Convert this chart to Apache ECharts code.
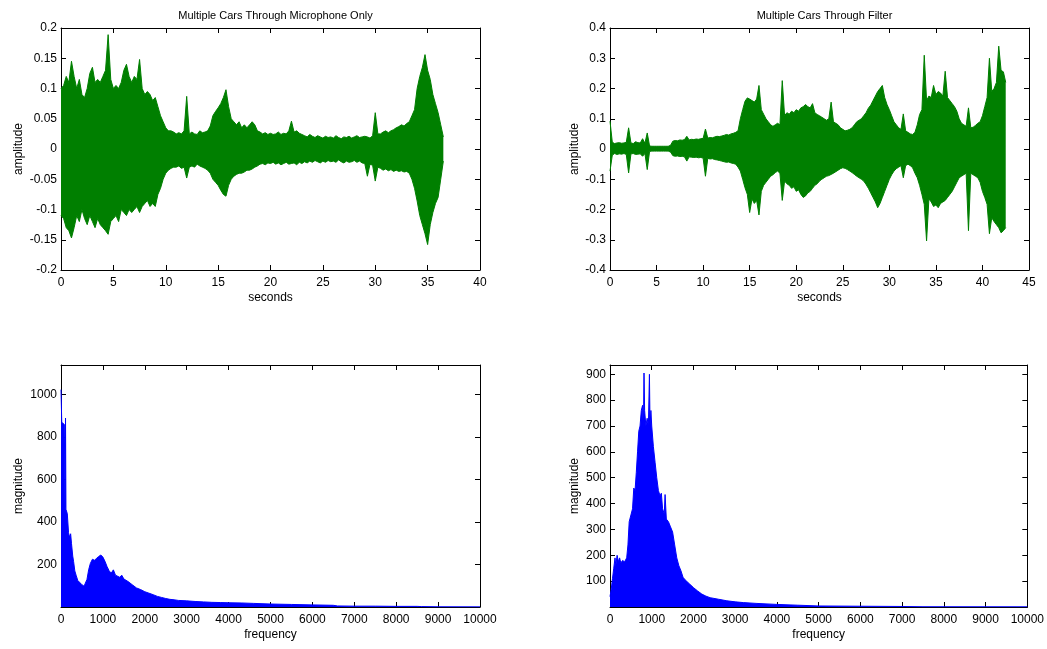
<!DOCTYPE html>
<html>
<head>
<meta charset="utf-8">
<script src="https://cdn.jsdelivr.net/npm/echarts@6/dist/echarts.min.js"></script>
<style>
html,body{margin:0;padding:0;background:#fff;}
#chart{width:1047px;height:649px;}
</style>
</head>
<body>
<div id="chart"></div>
<script>
// ---------- Data ----------
// Panel 1: microphone waveform envelope, sampled every 0.25 s from 0 s
const micStart = 0, micStep = 0.25;
const micUpper = [
  0.100,0.105,0.120,0.110,0.145,0.120,0.100,0.115,
  0.090,0.085,0.100,0.125,0.135,0.110,0.115,0.110,
  0.120,0.130,0.189,0.115,0.100,0.105,0.100,0.110,
  0.130,0.140,0.120,0.110,0.120,0.115,0.148,0.100,
  0.090,0.095,0.090,0.080,0.085,0.070,0.055,0.045,
  0.035,0.030,0.030,0.028,0.025,0.027,0.025,0.030,
  0.087,0.025,0.028,0.025,0.024,0.030,0.027,0.028,
  0.030,0.038,0.055,0.062,0.068,0.075,0.085,0.098,
  0.070,0.050,0.045,0.040,0.045,0.035,0.040,0.035,
  0.040,0.045,0.040,0.030,0.028,0.025,0.027,0.024,
  0.026,0.024,0.025,0.028,0.024,0.026,0.025,0.030,
  0.046,0.028,0.030,0.026,0.024,0.022,0.020,0.024,
  0.021,0.019,0.022,0.020,0.018,0.021,0.019,0.020,
  0.018,0.022,0.019,0.017,0.020,0.019,0.021,0.018,
  0.020,0.022,0.019,0.020,0.021,0.020,0.018,0.022,
  0.060,0.025,0.025,0.028,0.030,0.027,0.030,0.032,
  0.035,0.037,0.040,0.038,0.042,0.045,0.055,0.065,
  0.100,0.120,0.135,0.156,0.130,0.115,0.090,0.075,
  0.060,0.040,0.020
];
const micLower = [
  -0.110,-0.115,-0.130,-0.135,-0.147,-0.130,-0.110,-0.120,
  -0.100,-0.115,-0.125,-0.110,-0.120,-0.130,-0.115,-0.125,
  -0.130,-0.135,-0.141,-0.120,-0.115,-0.110,-0.120,-0.100,
  -0.105,-0.110,-0.100,-0.105,-0.100,-0.095,-0.105,-0.095,
  -0.090,-0.085,-0.095,-0.090,-0.095,-0.075,-0.065,-0.050,
  -0.040,-0.035,-0.032,-0.030,-0.030,-0.028,-0.032,-0.030,
  -0.048,-0.030,-0.028,-0.030,-0.025,-0.028,-0.030,-0.032,
  -0.035,-0.040,-0.050,-0.055,-0.060,-0.068,-0.075,-0.078,
  -0.060,-0.050,-0.045,-0.042,-0.040,-0.040,-0.038,-0.035,
  -0.035,-0.033,-0.030,-0.028,-0.025,-0.024,-0.026,-0.023,
  -0.024,-0.022,-0.025,-0.023,-0.026,-0.024,-0.022,-0.025,
  -0.024,-0.023,-0.026,-0.022,-0.024,-0.021,-0.023,-0.020,
  -0.022,-0.019,-0.021,-0.023,-0.020,-0.022,-0.019,-0.021,
  -0.020,-0.022,-0.018,-0.021,-0.023,-0.020,-0.022,-0.021,
  -0.019,-0.022,-0.020,-0.023,-0.024,-0.045,-0.025,-0.027,
  -0.053,-0.030,-0.032,-0.035,-0.033,-0.036,-0.034,-0.037,
  -0.035,-0.037,-0.036,-0.038,-0.037,-0.040,-0.050,-0.065,
  -0.086,-0.110,-0.125,-0.140,-0.158,-0.125,-0.105,-0.090,
  -0.080,-0.050,-0.020
];

// Panel 2: filtered waveform envelope, sampled every 0.25 s from 0 s
const filtStart = 0, filtStep = 0.25;
const filtUpper = [
  0.092,0.022,0.018,0.020,0.021,0.019,0.020,0.022,
  0.070,0.020,0.018,0.024,0.021,0.020,0.034,0.019,
  0.053,0.010,0.009,0.009,0.009,0.009,0.009,0.009,
  0.009,0.009,0.012,0.026,0.028,0.027,0.030,0.029,
  0.031,0.042,0.030,0.032,0.031,0.033,0.032,0.034,
  0.035,0.066,0.036,0.038,0.037,0.040,0.042,0.041,
  0.043,0.045,0.048,0.046,0.050,0.052,0.055,0.060,
  0.100,0.130,0.158,0.169,0.165,0.160,0.155,0.165,
  0.210,0.130,0.115,0.100,0.090,0.080,0.075,0.080,
  0.085,0.080,0.226,0.110,0.120,0.115,0.125,0.120,
  0.130,0.125,0.136,0.140,0.147,0.140,0.136,0.150,
  0.120,0.114,0.110,0.105,0.100,0.095,0.100,0.155,
  0.090,0.085,0.080,0.070,0.065,0.060,0.062,0.065,
  0.070,0.080,0.090,0.095,0.100,0.110,0.120,0.135,
  0.145,0.160,0.175,0.190,0.200,0.210,0.170,0.147,
  0.130,0.110,0.090,0.080,0.070,0.065,0.116,0.060,
  0.055,0.050,0.048,0.055,0.080,0.114,0.130,0.310,
  0.160,0.175,0.170,0.210,0.180,0.190,0.185,0.175,
  0.257,0.170,0.160,0.150,0.140,0.125,0.100,0.085,
  0.080,0.075,0.136,0.070,0.072,0.078,0.085,0.090,
  0.110,0.140,0.170,0.300,0.190,0.200,0.220,0.340,
  0.260,0.255,0.220
];
const filtLower = [
  -0.073,-0.020,-0.015,-0.018,-0.016,-0.017,-0.015,-0.018,
  -0.079,-0.016,-0.015,-0.018,-0.017,-0.016,-0.024,-0.015,
  -0.068,-0.008,-0.007,-0.007,-0.007,-0.007,-0.007,-0.007,
  -0.007,-0.007,-0.010,-0.022,-0.024,-0.023,-0.025,-0.024,
  -0.026,-0.040,-0.026,-0.027,-0.028,-0.027,-0.029,-0.028,
  -0.030,-0.090,-0.031,-0.033,-0.032,-0.035,-0.036,-0.038,
  -0.040,-0.042,-0.044,-0.043,-0.046,-0.048,-0.050,-0.060,
  -0.073,-0.100,-0.128,-0.150,-0.210,-0.165,-0.180,-0.170,
  -0.218,-0.140,-0.120,-0.110,-0.100,-0.090,-0.085,-0.078,
  -0.073,-0.080,-0.170,-0.106,-0.115,-0.120,-0.130,-0.125,
  -0.140,-0.135,-0.150,-0.160,-0.155,-0.145,-0.140,-0.130,
  -0.120,-0.115,-0.106,-0.100,-0.095,-0.090,-0.088,-0.084,
  -0.080,-0.075,-0.070,-0.065,-0.062,-0.064,-0.068,-0.073,
  -0.078,-0.084,-0.090,-0.095,-0.100,-0.106,-0.117,-0.130,
  -0.145,-0.160,-0.175,-0.194,-0.180,-0.160,-0.140,-0.120,
  -0.100,-0.085,-0.073,-0.065,-0.060,-0.055,-0.095,-0.055,
  -0.050,-0.055,-0.062,-0.080,-0.095,-0.120,-0.150,-0.183,
  -0.304,-0.165,-0.175,-0.190,-0.185,-0.194,-0.180,-0.175,
  -0.170,-0.160,-0.150,-0.140,-0.125,-0.110,-0.095,-0.090,
  -0.085,-0.080,-0.270,-0.080,-0.085,-0.090,-0.095,-0.110,
  -0.140,-0.160,-0.183,-0.280,-0.227,-0.240,-0.250,-0.260,
  -0.277,-0.270,-0.260
];

// Panel 3: microphone spectrum
const micFreq = [0,12,18,50,80,95,108,118,150,180,200,230,250,280,300,330,360,400,450,500,550,580,620,660,700,750,800,850,900,950,1000,1050,1100,1150,1200,1250,1300,1400,1450,1500,1600,1700,1800,1900,2000,2100,2200,2300,2400,2500,2600,2700,2800,3000,3200,3400,3600,3800,4000,4300,4600,5000,5500,6000,6500,6600,7000,7500,8000,8500,8600,9000,10000];
const micMag  = [1024,1024,870,865,860,470,890,460,440,350,330,345,300,240,215,170,150,125,115,105,98,95,130,175,205,225,220,230,238,245,235,215,190,170,160,175,150,140,150,132,120,105,90,82,72,65,58,50,45,40,36,34,31,29,26,24,22,21,20,19,17,14,12,10,8,5,4,4,3,3,2,1,1];

// Panel 4: filtered spectrum
const filtFreq = [0,30,60,90,120,140,170,200,230,260,300,350,400,430,460,500,540,570,600,630,660,690,720,750,780,800,815,830,860,890,920,945,960,980,1000,1040,1080,1120,1160,1200,1230,1260,1300,1320,1350,1400,1450,1500,1550,1600,1650,1700,1750,1800,1900,2000,2100,2200,2300,2400,2600,2800,3000,3200,3500,4000,4500,5000,6000,7000,7500,10000];
const filtMag  = [40,70,110,150,190,160,200,175,190,170,180,175,190,240,330,330,380,460,450,520,600,680,700,760,780,680,905,760,700,730,700,900,700,760,700,620,560,500,450,430,440,380,360,435,340,330,310,290,240,190,160,140,115,105,90,75,62,50,42,36,30,24,20,17,14,10,7,4,3,2,1,1];

// Text
const titles = ['Multiple Cars Through Microphone Only', 'Multiple Cars Through Filter'];
const xNames = ['seconds', 'seconds', 'frequency', 'frequency'];
const yNames = ['amplitude', 'amplitude', 'magnitude', 'magnitude'];

// ---------- Build ----------
function seq(start, step, arr){ return arr.map((v,i)=>[start+i*step, v]); }
function zip(xs, ys){ return xs.map((x,i)=>[x, ys[i]]); }

const FONT = 'Liberation Sans, Arial, sans-serif';
const grids = [
  {left:61, top:28, width:419, height:242},
  {left:610, top:28, width:419, height:242},
  {left:61, top:365, width:419, height:242},
  {left:610, top:365, width:419, height:242}
];
const xCfg = [
  {min:0, max:40, interval:5},
  {min:0, max:45, interval:5},
  {min:0, max:10000, interval:1000},
  {min:0, max:10000, interval:1000}
];
const yCfg = [
  {min:-0.2, max:0.2, interval:0.05, fmt: v => (Math.abs(v) < 1e-9 ? '0' : String(+v.toFixed(2)))},
  {min:-0.4, max:0.4, interval:0.1, fmt: v => (Math.abs(v) < 1e-9 ? '0' : String(+v.toFixed(1)))},
  {min:0, max:1140, interval:200, fmt: v => (v <= 0 || v > 1000 ? '' : String(v))},
  {min:0, max:936, interval:100, fmt: v => (v <= 0 || v > 900 ? '' : String(v))}
];

const lineStyle = {color:'#000', width:1};
const xAxis = [], yAxis = [];
for (let i = 0; i < 4; i++) {
  xAxis.push({
    type:'value', gridIndex:i, position:'bottom', min:xCfg[i].min, max:xCfg[i].max, interval:xCfg[i].interval,
    name:xNames[i], nameLocation:'middle', nameGap:22,
    nameTextStyle:{fontFamily:FONT, fontSize:12, color:'#000'},
    axisLine:{show:true, onZero:false, lineStyle},
    axisTick:{show:true, inside:true, length:5, lineStyle},
    axisLabel:{fontFamily:FONT, fontSize:12, color:'#000', margin:7, formatter: v => String(v)},
    splitLine:{show:false}
  });
  xAxis.push({
    type:'value', gridIndex:i, position:'top', min:xCfg[i].min, max:xCfg[i].max, interval:xCfg[i].interval,
    axisLine:{show:true, onZero:false, lineStyle},
    axisTick:{show:true, inside:true, length:5, lineStyle},
    axisLabel:{show:false}, splitLine:{show:false}
  });
  yAxis.push({
    type:'value', gridIndex:i, position:'left', min:yCfg[i].min, max:yCfg[i].max, interval:yCfg[i].interval,
    name:yNames[i], nameLocation:'middle', nameGap:i % 2 === 0 ? 36 : 29, nameRotate:90,
    nameTextStyle:{fontFamily:FONT, fontSize:12, color:'#000'},
    axisLine:{show:true, onZero:false, lineStyle},
    axisTick:{show:true, inside:true, length:5, lineStyle},
    axisLabel:{fontFamily:FONT, fontSize:12, color:'#000', margin:4, formatter:yCfg[i].fmt},
    splitLine:{show:false}
  });
  yAxis.push({
    type:'value', gridIndex:i, position:'right', min:yCfg[i].min, max:yCfg[i].max, interval:yCfg[i].interval,
    axisLine:{show:true, onZero:false, lineStyle},
    axisTick:{show:true, inside:true, length:5, lineStyle},
    axisLabel:{show:false}, splitLine:{show:false}
  });
}

const GREEN = '#007f00', BLUE = '#0000ff';
function areaSeries(data, gi, color){
  return {
    type:'line', xAxisIndex:gi*2, yAxisIndex:gi*2, data,
    showSymbol:false, symbol:'none', silent:true, animation:false,
    lineStyle:{color, width:1}, itemStyle:{color},
    areaStyle:{color, opacity:1, origin:0}
  };
}

const series = [
  areaSeries(seq(micStart, micStep, micUpper), 0, GREEN),
  areaSeries(seq(micStart, micStep, micLower), 0, GREEN),
  areaSeries(seq(filtStart, filtStep, filtUpper), 1, GREEN),
  areaSeries(seq(filtStart, filtStep, filtLower), 1, GREEN),
  areaSeries(zip(micFreq, micMag), 2, BLUE),
  areaSeries(zip(filtFreq, filtMag), 3, BLUE)
];

const option = {
  backgroundColor:'#fff',
  animation:false,
  title:[
    {text:titles[0], left:270.5, top:5, textAlign:'center', textStyle:{fontFamily:FONT, fontSize:11, fontWeight:'normal', color:'#000'}},
    {text:titles[1], left:819.5, top:5, textAlign:'center', textStyle:{fontFamily:FONT, fontSize:11, fontWeight:'normal', color:'#000'}}
  ],
  grid:grids,
  xAxis, yAxis, series
};

const chart = echarts.init(document.getElementById('chart'), null, {renderer:'canvas'});
chart.setOption(option);
</script>
</body>
</html>
